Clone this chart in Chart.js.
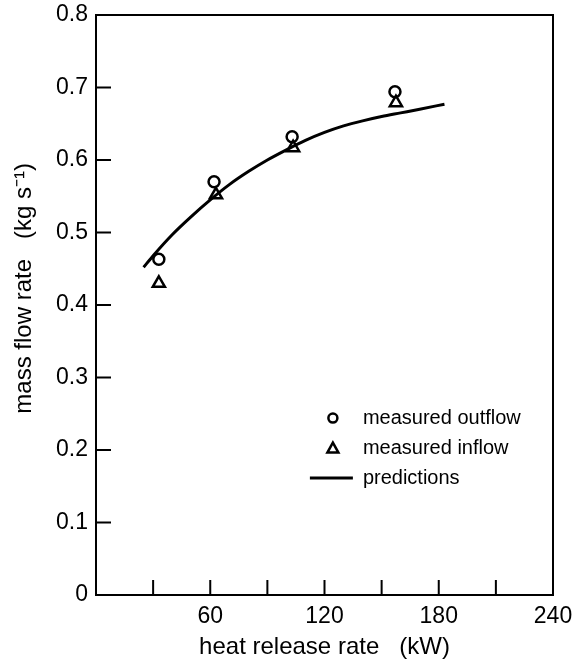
<!DOCTYPE html>
<html>
<head>
<meta charset="utf-8">
<script src="https://cdn.jsdelivr.net/npm/chart.js@4/dist/chart.umd.min.js"></script>
<style>
  html, body { margin: 0; padding: 0; background: #fff; }
  #wrap { width: 576px; height: 661px; position: relative; }
</style>
</head>
<body>
<div id="wrap"><canvas id="c"></canvas></div>
<script>
// ---- data ----
const outflowX = [33, 62, 103, 157];
const outflowY = [0.463, 0.570, 0.632, 0.694];
const inflowX = [33, 63, 103.5, 157.5];
const inflowY = [0.430, 0.552, 0.617, 0.679];
const predX = [25, 30, 40, 50, 60, 70, 80, 90, 100, 110, 120, 130, 140, 150, 160, 170, 183];
const predY = [0.452, 0.468, 0.497, 0.522, 0.545, 0.566, 0.584, 0.600, 0.614, 0.627, 0.638, 0.647, 0.654, 0.660, 0.665, 0.670, 0.677];
const xTickLabels = [60, 120, 180, 240];
const yTickLabels = ['0', '0.1', '0.2', '0.3', '0.4', '0.5', '0.6', '0.7', '0.8'];
const seriesNames = ['measured outflow', 'measured inflow', 'predictions'];
const xTitle = 'heat release rate   (kW)';
const yTitle = '     mass flow rate   (kg s\u207B\u00B9)';

const FONT = "'Liberation Sans', Arial, Helvetica, sans-serif";
const pts = (xs, ys) => xs.map((x, i) => ({ x: x, y: ys[i] }));

const framePlugin = {
  id: 'frame',
  afterDraw(chart) {
    const { ctx, chartArea: a, scales } = chart;
    ctx.save();
    ctx.strokeStyle = '#000';
    ctx.lineWidth = 2;
    ctx.strokeRect(a.left, a.top, a.right - a.left, a.bottom - a.top);
    ctx.beginPath();
    for (let v = 30; v < 240; v += 30) {
      const px = scales.x.getPixelForValue(v);
      ctx.moveTo(px, a.bottom);
      ctx.lineTo(px, a.bottom - 15);
    }
    for (let i = 1; i < 8; i++) {
      const py = scales.y.getPixelForValue(i / 10);
      ctx.moveTo(a.left, py);
      ctx.lineTo(a.left + 15, py);
    }
    ctx.stroke();

    // legend inside plot
    const lx = a.left + (a.right - a.left) * 0.584;
    const ly = a.top + (a.bottom - a.top) * 0.695;
    const gap = 30;
    ctx.font = '20px ' + FONT;
    ctx.fillStyle = '#000';
    ctx.textBaseline = 'middle';
    ctx.textAlign = 'left';
    const ds = chart.data.datasets;
    // circle
    ctx.lineWidth = 2.5;
    ctx.beginPath();
    ctx.arc(lx - 30, ly, 4.5, 0, Math.PI * 2);
    ctx.stroke();
    ctx.fillText(ds[0].label, lx, ly);
    // triangle
    const ty = ly + gap;
    ctx.beginPath();
    ctx.moveTo(lx - 30, ty - 5.5);
    ctx.lineTo(lx - 24.5, ty + 4.5);
    ctx.lineTo(lx - 35.5, ty + 4.5);
    ctx.closePath();
    ctx.stroke();
    ctx.fillText(ds[1].label, lx, ty);
    // line
    const py = ly + gap * 2;
    ctx.lineWidth = 3;
    ctx.beginPath();
    ctx.moveTo(lx - 53, py);
    ctx.lineTo(lx - 10, py);
    ctx.stroke();
    ctx.fillText(ds[2].label, lx, py);
    ctx.restore();
  }
};

new Chart(document.getElementById('c'), {
  type: 'scatter',
  data: {
    datasets: [
      {
        label: seriesNames[0],
        data: pts(outflowX, outflowY),
        pointStyle: 'circle',
        pointRadius: 5.5,
        pointBorderWidth: 2.5,
        borderColor: '#000',
        backgroundColor: 'rgba(0,0,0,0)',
        showLine: false
      },
      {
        label: seriesNames[1],
        data: pts(inflowX, inflowY),
        pointStyle: 'triangle',
        pointRadius: 7,
        pointBorderWidth: 2.5,
        borderColor: '#000',
        backgroundColor: 'rgba(0,0,0,0)',
        showLine: false
      },
      {
        label: seriesNames[2],
        data: pts(predX, predY),
        showLine: true,
        pointRadius: 0,
        borderColor: '#000',
        borderWidth: 3,
        cubicInterpolationMode: 'monotone',
        fill: false
      }
    ]
  },
  options: {
    responsive: true,
    maintainAspectRatio: false,
    animation: false,
    layout: { padding: { top: 15, right: 23, left: 0, bottom: 0 } },
    plugins: { legend: { display: false }, tooltip: { enabled: false } },
    scales: {
      x: {
        type: 'linear',
        min: 0, max: 240,
        grid: { display: false, drawTicks: false },
        border: { display: false },
        ticks: {
          stepSize: 30,
          color: '#000',
          font: { family: FONT, size: 23 },
          padding: 8,
          maxRotation: 0,
          autoSkip: false,
          callback: (v) => xTickLabels.includes(v) ? String(v) : ''
        },
        title: {
          display: true, text: xTitle, color: '#000',
          font: { family: FONT, size: 24 },
          padding: { top: 0, bottom: -1 }
        },
        afterFit: (s) => { s.height = 66; s.paddingRight = 0; s.paddingLeft = 0; }
      },
      y: {
        type: 'linear',
        min: 0, max: 0.8,
        grid: { display: false, drawTicks: false },
        border: { display: false },
        ticks: {
          stepSize: 0.1,
          color: '#000',
          font: { family: FONT, size: 23 },
          padding: 8,
          autoSkip: false,
          callback: (v) => yTickLabels[Math.round(v * 10)]
        },
        title: {
          display: true, text: yTitle, color: '#000',
          font: { family: FONT, size: 24 },
          padding: { top: 10, bottom: 0 }
        },
        afterFit: (s) => { s.width = 96; s.paddingTop = 0; s.paddingBottom = 0; }
      }
    }
  },
  plugins: [framePlugin]
});
</script>
</body>
</html>
